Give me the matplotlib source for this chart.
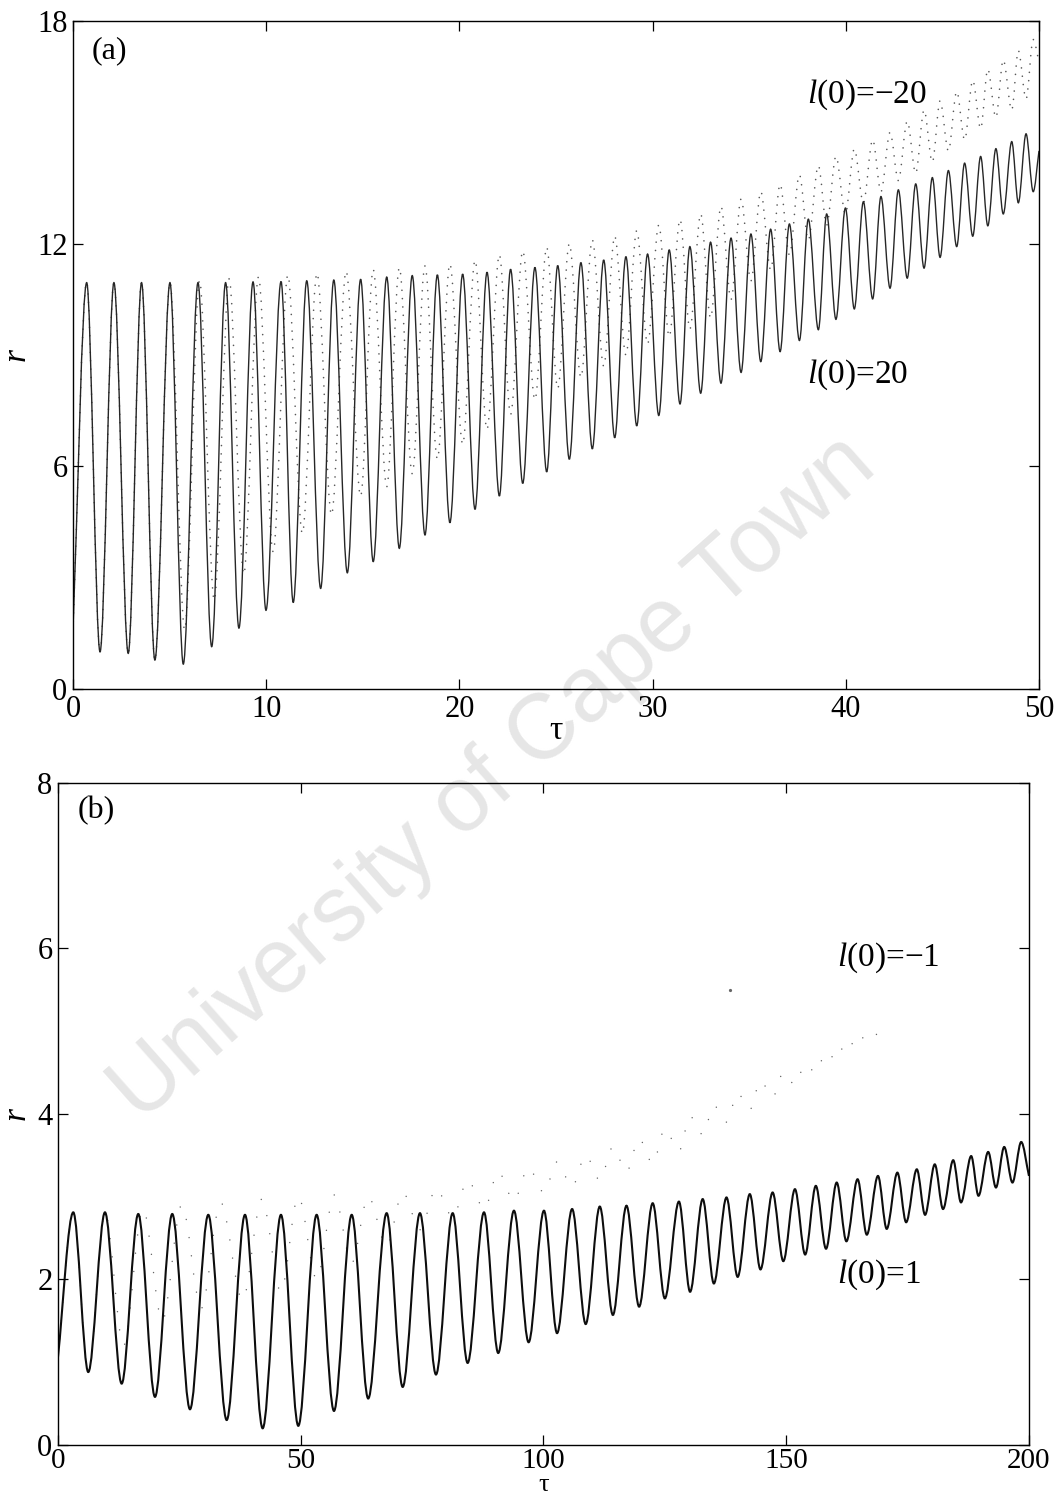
import matplotlib
matplotlib.use("Agg")
import matplotlib.pyplot as plt
from matplotlib.path import Path
from matplotlib.patches import PathPatch

# ---- panel (a): extrema ----
a_start = (0.0, 1.6)
a_end = (50.0, 14.5)
a_peak_tau = [0.71, 2.12, 3.55, 5.02, 6.47, 7.9, 9.32, 10.77, 12.1, 13.5,
              14.89, 16.24, 17.56, 18.86, 20.17, 21.43, 22.65, 23.91, 25.09, 26.29,
              27.47, 28.62, 29.74, 30.86, 31.93, 33.0, 34.06, 35.09, 36.11, 37.08,
              38.06, 39.01, 39.98, 40.91, 41.82, 42.72, 43.62, 44.48, 45.31, 46.15,
              46.98, 47.77, 48.59, 49.33]
a_peak_r = [10.95, 10.95, 10.95, 10.95, 10.95, 10.95, 10.97, 10.98, 11.0, 11.02,
            11.04, 11.1, 11.14, 11.16, 11.18, 11.23, 11.31, 11.36, 11.41, 11.49,
            11.56, 11.65, 11.72, 11.83, 11.92, 12.04, 12.15, 12.26, 12.39, 12.53,
            12.66, 12.8, 12.96, 13.13, 13.27, 13.45, 13.61, 13.78, 13.97, 14.17,
            14.35, 14.56, 14.75, 14.96]
a_trough_tau = [1.4, 2.86, 4.24, 5.71, 7.18, 8.59, 9.99, 11.4, 12.82, 14.2,
                15.54, 16.89, 18.22, 19.51, 20.81, 22.07, 23.28, 24.52, 25.69, 26.88,
                28.04, 29.18, 30.32, 31.42, 32.49, 33.54, 34.58, 35.6, 36.6, 37.6,
                38.58, 39.49, 40.44, 41.39, 42.29, 43.18, 44.05, 44.88, 45.74, 46.57,
                47.35, 48.15, 48.93, 49.7]
a_trough_r = [1.0, 0.96, 0.78, 0.67, 1.14, 1.64, 2.12, 2.33, 2.71, 3.13,
              3.43, 3.79, 4.15, 4.48, 4.84, 5.2, 5.54, 5.85, 6.19, 6.47,
              6.77, 7.09, 7.37, 7.68, 7.97, 8.24, 8.53, 8.82, 9.09, 9.39,
              9.68, 9.96, 10.24, 10.51, 10.8, 11.07, 11.34, 11.63, 11.92, 12.2,
              12.48, 12.8, 13.1, 13.4]

# l(0)=-20, dotted
ad_start = (0.0, 1.6)
ad_end = (50.0, 16.9)
ad_peak_tau = [0.71, 2.12, 3.55, 5.02, 6.55, 8.08, 9.6, 11.12, 12.63, 14.14,
               15.54, 16.89, 18.22, 19.51, 20.81, 22.07, 23.28, 24.52, 25.69, 26.88,
               28.04, 29.18, 30.32, 31.42, 32.49, 33.54, 34.58, 35.6, 36.6, 37.6,
               38.58, 39.49, 40.44, 41.39, 42.29, 43.18, 44.05, 44.88, 45.74, 46.57,
               47.35, 48.15, 48.93, 49.7]
ad_peak_r = [10.95, 10.95, 10.95, 10.95, 11.0, 11.05, 11.1, 11.15, 11.2, 11.25,
             11.3, 11.35, 11.4, 11.45, 11.55, 11.7, 11.8, 11.9, 12.0, 12.1,
             12.2, 12.35, 12.5, 12.65, 12.8, 13.0, 13.2, 13.4, 13.6, 13.85,
             14.1, 14.35, 14.55, 14.8, 15.0, 15.3, 15.6, 15.85, 16.1, 16.4,
             16.7, 16.95, 17.2, 17.5]
ad_trough_tau = [1.4, 2.86, 4.24, 5.78, 7.31, 8.84, 10.36, 11.87, 13.38, 14.89,
                 16.24, 17.56, 18.86, 20.17, 21.43, 22.65, 23.91, 25.09, 26.29, 27.47,
                 28.62, 29.74, 30.86, 31.93, 33.0, 34.06, 35.09, 36.11, 37.08, 38.06,
                 39.01, 39.98, 40.91, 41.82, 42.72, 43.62, 44.48, 45.31, 46.15, 46.98,
                 47.77, 48.59, 49.33]
ad_trough_r = [1.0, 0.96, 0.78, 1.6, 2.4, 3.1, 3.7, 4.2, 4.7, 5.2,
               5.45, 5.8, 6.2, 6.6, 7.0, 7.4, 7.8, 8.1, 8.4, 8.7,
               9.0, 9.3, 9.5, 9.7, 10.0, 10.5, 11.0, 11.3, 11.7, 12.1,
               12.5, 12.8, 13.1, 13.4, 13.7, 13.9, 14.2, 14.5, 14.8, 15.1,
               15.4, 15.6, 15.9]

# ---- panel (b) ----
b_start = (0.0, 1.06)
b_end = (200.0, 3.25)
b_peak_tau = [3.15, 9.68, 16.54, 23.54, 30.96, 38.52, 45.93, 53.28, 60.5, 67.7,
              74.56, 81.3, 87.75, 93.92, 100.1, 105.9, 111.6, 117.1, 122.5, 127.9,
              132.8, 137.7, 142.5, 147.2, 151.8, 156.1, 160.4, 164.7, 168.9, 172.9,
              176.9, 180.6, 184.4, 188.1, 191.6, 194.9, 198.4]
b_peak_r = [2.81, 2.81, 2.79, 2.79, 2.78, 2.78, 2.78, 2.78, 2.78, 2.8,
            2.8, 2.8, 2.81, 2.83, 2.83, 2.85, 2.88, 2.89, 2.92, 2.94,
            2.97, 2.99, 3.03, 3.05, 3.09, 3.13, 3.17, 3.21, 3.25, 3.29,
            3.33, 3.39, 3.44, 3.49, 3.54, 3.6, 3.66]
b_trough_tau = [6.24, 13.12, 19.98, 27.19, 34.75, 42.16, 49.5, 56.85, 63.9, 71.0,
                77.86, 84.38, 90.68, 96.94, 102.8, 108.7, 114.3, 119.7, 125.0, 130.2,
                135.1, 140.0, 144.7, 149.4, 153.9, 158.2, 162.4, 166.6, 170.7, 174.7,
                178.6, 182.3, 186.0, 189.6, 193.2, 196.6]
b_trough_r = [0.88, 0.74, 0.58, 0.43, 0.3, 0.2, 0.23, 0.41, 0.56, 0.7,
              0.85, 0.99, 1.11, 1.24, 1.35, 1.46, 1.57, 1.67, 1.77, 1.85,
              1.95, 2.03, 2.12, 2.22, 2.3, 2.37, 2.46, 2.54, 2.61, 2.69,
              2.78, 2.85, 2.93, 3.01, 3.11, 3.17]

# l(0)=-1, dotted
bd_start = (0.0, 1.06)
bd_end = (169.0, 4.95)
bd_peak_tau = [3.15, 9.68, 17.5, 25.5, 33.5, 42.0, 49.5, 56.9, 63.9, 71.0,
               77.9, 84.4, 90.7, 96.9, 102.8, 108.7, 114.3, 119.7, 125.0, 130.2,
               135.1, 140.0, 144.7, 149.4, 153.9, 158.2, 162.4, 166.6]
bd_peak_r = [2.81, 2.81, 2.85, 2.9, 2.93, 2.97, 3.0, 3.02, 3.0, 3.05,
             3.1, 3.2, 3.3, 3.35, 3.42, 3.5, 3.6, 3.7, 3.82, 3.97,
             4.1, 4.25, 4.4, 4.5, 4.6, 4.75, 4.9, 5.0]
bd_trough_tau = [6.24, 13.5, 21.5, 29.5, 38.0, 45.9, 53.3, 60.5, 67.7, 74.6,
                 81.3, 87.8, 93.9, 100.1, 105.9, 111.6, 117.1, 122.5, 127.9, 132.8,
                 137.7, 142.5, 147.2, 151.8, 156.1, 160.4, 164.7]
bd_trough_r = [0.88, 1.2, 1.5, 1.65, 1.75, 1.85, 2.0, 2.2, 2.4, 2.6,
               2.75, 2.85, 2.95, 3.05, 3.12, 3.2, 3.3, 3.4, 3.55, 3.75,
               3.9, 4.05, 4.2, 4.35, 4.5, 4.65, 4.8]
bd_stray = ([138.4], [5.5])


def wave_path(start, peak_tau, peak_r, trough_tau, trough_r, end):
    """Smooth path through the extrema, flat tangent at every peak/trough"""
    ext = sorted(zip(peak_tau + trough_tau, peak_r + trough_r))
    pts = [start] + ext + [end]
    verts = [pts[0]]
    codes = [Path.MOVETO]
    last = len(pts) - 2
    for i in range(len(pts) - 1):
        (t0, r0), (t1, r1) = pts[i], pts[i + 1]
        dt = (t1 - t0) / 3
        c1 = (t0 + dt, r0 + (r1 - r0) / 3 if i == 0 else r0)
        c2 = (t1 - dt, r1 - (r1 - r0) / 3 if i == last else r1)
        verts += [c1, c2, (t1, r1)]
        codes += [Path.CURVE4] * 3
    return Path(verts, codes)


plt.rcParams['font.family'] = ['Liberation Serif', 'DejaVu Serif']
plt.rcParams['mathtext.fontset'] = 'custom'
plt.rcParams['mathtext.rm'] = 'Liberation Serif'
plt.rcParams['mathtext.it'] = 'Liberation Serif:italic'

fig = plt.figure(figsize=(10.56, 15.09), dpi=100)
ax_a = fig.add_axes([0.0691, 0.5434, 0.9148, 0.4427])
ax_b = fig.add_axes([0.0549, 0.0425, 0.9195, 0.4387])

fig.text(0.468, 0.484, "University of Cape Town", rotation=41.5,
         ha='center', va='center', fontsize=66, color='#e6e6e6',
         family='Liberation Sans', zorder=-1)

# (a)
ax_a.add_patch(PathPatch(wave_path(ad_start, ad_peak_tau, ad_peak_r,
                                   ad_trough_tau, ad_trough_r, ad_end),
                         fill=False, edgecolor='0.35', lw=1.2,
                         linestyle=(0, (0.01, 5)), capstyle='round'))
ax_a.add_patch(PathPatch(wave_path(a_start, a_peak_tau, a_peak_r,
                                   a_trough_tau, a_trough_r, a_end),
                         fill=False, edgecolor='0.15', lw=1.0))
ax_a.set_xlim(0, 50)
ax_a.set_ylim(0, 18)
ax_a.set_xticks([0, 10, 20, 30, 40, 50])
ax_a.set_yticks([0, 6, 12, 18])
ax_a.text(0.95, 17.2, "(a)", fontsize=23, va='center')
ax_a.text(38.0, 16.0, r"$\mathit{l}$(0)=−20", fontsize=24, va='center')
ax_a.text(38.0, 8.46, r"$\mathit{l}$(0)=20", fontsize=24, va='center')

# (b)
ax_b.add_patch(PathPatch(wave_path(bd_start, bd_peak_tau, bd_peak_r,
                                   bd_trough_tau, bd_trough_r, bd_end),
                         fill=False, edgecolor='0.4', lw=1.1,
                         linestyle=(0, (0.01, 12)), capstyle='round'))
ax_b.plot(bd_stray[0], bd_stray[1], ls='none', marker='o', ms=1.3, color='0.4')
ax_b.add_patch(PathPatch(wave_path(b_start, b_peak_tau, b_peak_r,
                                   b_trough_tau, b_trough_r, b_end),
                         fill=False, edgecolor='0.05', lw=1.5))
ax_b.set_xlim(0, 200)
ax_b.set_ylim(0, 8)
ax_b.set_xticks([0, 50, 100, 150, 200])
ax_b.set_yticks([0, 2, 4, 6, 8])
ax_b.text(4.0, 7.67, "(b)", fontsize=23, va='center')
ax_b.text(160.4, 5.89, r"$\mathit{l}$(0)=−1", fontsize=24, va='center')
ax_b.text(160.4, 2.05, r"$\mathit{l}$(0)=1", fontsize=24, va='center')

for ax in (ax_a, ax_b):
    ax.set_facecolor('none')
    ax.tick_params(direction='in', top=True, right=True, length=7, width=0.9,
                   labelsize=22, pad=4)
    for s in ax.spines.values():
        s.set_linewidth(1.0)
    ax.set_ylabel("r", fontsize=24, style='italic', labelpad=4)
ax_b.tick_params(axis='x', pad=2, labelsize=21)
ax_a.set_xlabel("τ", fontsize=24, labelpad=-6)
ax_b.set_xlabel("τ", fontsize=19, labelpad=0)

fig.savefig("out.png", dpi=100)
